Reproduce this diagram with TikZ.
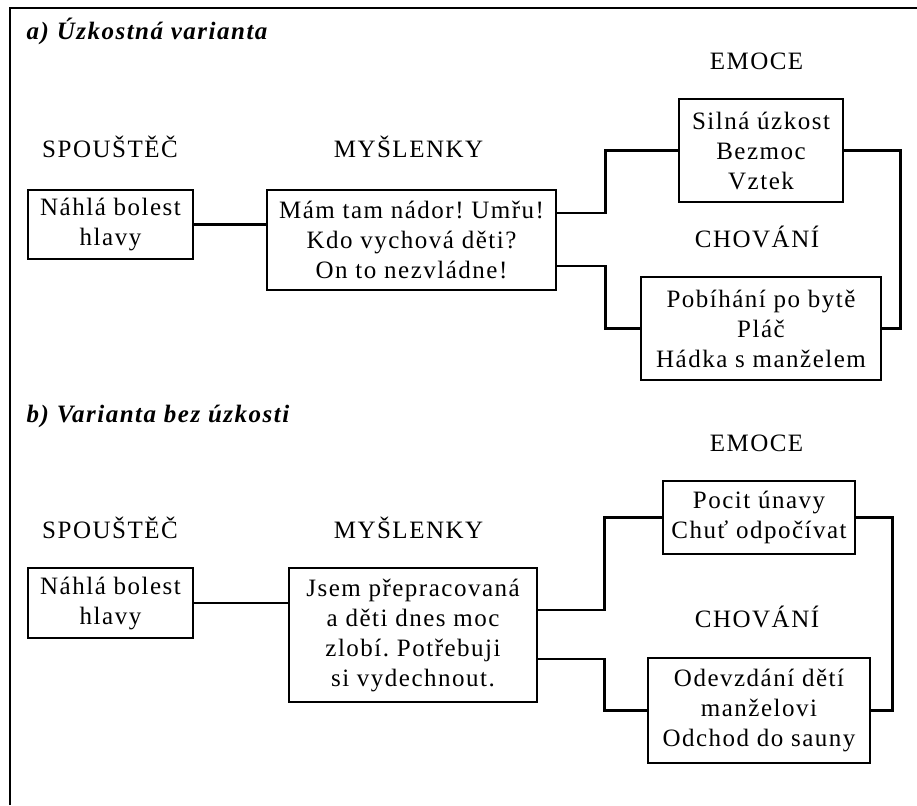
\documentclass[tikz,border=0pt]{standalone}
\usepackage{fontspec}
\setmainfont{Liberation Serif}[LetterSpace=6]
\usetikzlibrary{calc}
\frenchspacing

\begin{document}
\begin{tikzpicture}[x=1pt, y=-1pt, line width=2.7pt,
  font=\fontsize{25}{30}\selectfont,
  box/.style={rectangle, draw, inner sep=0pt, align=center},
  head/.style={anchor=base},
  title/.style={anchor=base west, font=\fontsize{25}{30}\selectfont\bfseries\itshape}]
	\useasboundingbox (0,0) rectangle (917,805);
	\draw (10,805) -- (10,8) -- (917,8);

	% a) Uzkostna varianta
	\path (22,40) node[title] (tita) {a) Úzkostná varianta}
		(110,158) node[head] (hdtriga) {SPOUŠTĚČ}
		(408.5,158) node[head] (hdthinka) {MYŠLENKY}
		(756.5,70) node[head] (hdemoa) {EMOCE}
		(757,247) node[head] (hdbeha) {CHOVÁNÍ}
		(110.5,224.5) node[box, minimum width=165pt, minimum height=69pt] (triga) {Náhlá bolest\\hlavy}
		(411.5,240) node[box, minimum width=289pt, minimum height=100pt] (thinka) {Mám tam nádor! Umřu!\\Kdo vychová děti?\\On to nezvládne!}
		(761,150.5) node[box, minimum width=164pt, minimum height=103pt] (emoa) {Silná úzkost\\Bezmoc\\Vztek}
		(761,328.5) node[box, minimum width=240pt, minimum height=103pt] (beha) {Pobíhání po bytě\\Pláč\\Hádka s manželem};

	\draw (triga.east) -- (triga.east -| thinka.west);
	\draw ([yshift=27pt]thinka.east) -- ++(48,0) |- (emoa.west);
	\draw ([yshift=-26pt]thinka.east) -- ++(48,0) |- (beha.west);
	\draw (emoa.east) -- ++(56,0) |- (beha.east);

	% b) Varianta bez uzkosti
	\path (22,422) node[title] (titb) {b) Varianta bez úzkosti}
		(110,538) node[head] (hdtrigb) {SPOUŠTĚČ}
		(408.5,538) node[head] (hdthinkb) {MYŠLENKY}
		(756.5,451) node[head] (hdemob) {EMOCE}
		(757,627) node[head] (hdbehb) {CHOVÁNÍ}
		(110.5,603) node[box, minimum width=165pt, minimum height=70pt] (trigb) {Náhlá bolest\\hlavy}
		(413,635) node[box, minimum width=248pt, minimum height=134pt] (thinkb) {Jsem přepracovaná\\a děti dnes moc\\zlobí. Potřebuji\\si vydechnout.}
		(759,517.5) node[box, minimum width=192pt, minimum height=73pt] (emob) {Pocit únavy\\Chuť odpočívat}
		(759,710.5) node[box, minimum width=222pt, minimum height=105pt] (behb) {Odevzdání dětí\\manželovi\\Odchod do sauny};

	\draw (trigb.east) -- (trigb.east -| thinkb.west);
	\draw ([yshift=25pt]thinkb.east) -- ++(66,0) |- (emob.west);
	\draw ([yshift=-24pt]thinkb.east) -- ++(66,0) |- (behb.west);
	\draw (emob.east) -- ++(36,0) |- (behb.east);
\end{tikzpicture}
\end{document}
